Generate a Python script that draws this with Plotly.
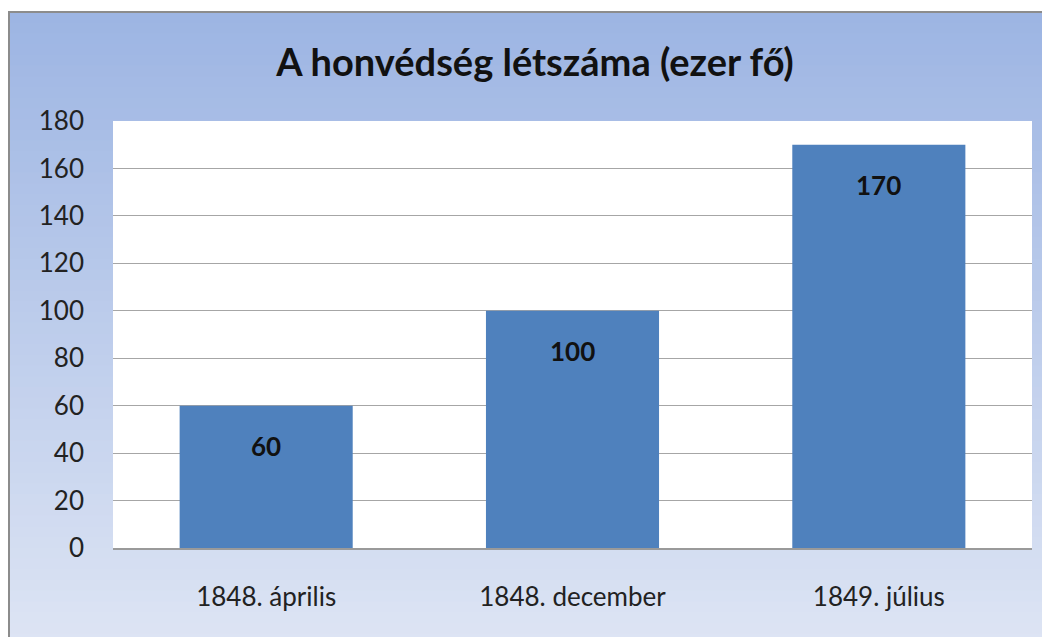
import plotly.graph_objects as go

categories = ["1848. április", "1848. december", "1849. július"]
values = [60, 100, 170]
y_ticks = [0, 20, 40, 60, 80, 100, 120, 140, 160, 180]
title_text = "A honvédség létszáma (ezer fő)"

# the page body adds an 8px offset; margins compensate for it
OFF = 8
W, H = 1050, 637
ML, MR, MT, MB = 113 - OFF, 26, 121 - OFF, 97

FONT = "Lato, Open Sans, sans-serif"

fig = go.Figure()
fig.add_trace(go.Bar(
    x=categories, y=values, width=0.565,
    marker=dict(color="#4F81BD", line=dict(width=0)),
    hoverinfo="x+y",
))

for c, v in zip(categories, values):
    fig.add_annotation(x=c, y=v, yshift=-40, text=f"<b>{v}</b>", showarrow=False,
                       font=dict(family=FONT, size=26, color="#111111"))

shapes = []
top_c = (157, 181, 227)
bot_c = (222, 229, 244)
pw = W - ML - MR
ph = H - MT - MB


def px_x(px):
    return (px - OFF - ML) / pw


def px_y(py):
    return 1 - (py - OFF - MT) / ph


fx0, fy0 = 8, 12
n = 60
y_end = H + OFF + 10
for i in range(n):
    t = i / (n - 1)
    col = tuple(round(top_c[k] + (bot_c[k] - top_c[k]) * t) for k in range(3))
    ya = fy0 + (y_end - fy0) * i / n
    yb = fy0 + (y_end - fy0) * (i + 1) / n + 0.8
    shapes.append(dict(type="rect", xref="paper", yref="paper",
                       x0=px_x(fx0), x1=px_x(W + 20),
                       y0=px_y(ya), y1=px_y(yb),
                       fillcolor="rgb(%d,%d,%d)" % col, line=dict(width=0), layer="below"))
shapes.append(dict(type="rect", xref="paper", yref="paper",
                   x0=px_x(fx0 + 1), x1=px_x(W + 20),
                   y0=px_y(fy0), y1=px_y(H + 20),
                   fillcolor="rgba(0,0,0,0)", line=dict(width=2, color="#8C8C8C"), layer="below"))
shapes.append(dict(type="rect", xref="paper", yref="paper", x0=0, x1=1, y0=0, y1=1,
                   fillcolor="white", line=dict(width=0), layer="below"))

fig.update_layout(
    width=W, height=H,
    margin=dict(l=ML, r=MR, t=MT, b=MB),
    paper_bgcolor="white",
    plot_bgcolor="rgba(0,0,0,0)",
    shapes=shapes,
    showlegend=False,
    title=dict(text=f"<b>{title_text}</b>", x=(535 - OFF) / W, xanchor="center",
               y=1 - (63 - OFF) / H, yanchor="middle",
               font=dict(family=FONT, size=38, color="#111111")),
    font=dict(family=FONT, size=26, color="#222222"),
    xaxis=dict(showgrid=False, showline=True, linecolor="#9A9A9A", linewidth=2,
               ticks="", ticklabelstandoff=25, tickfont=dict(size=26, color="#222222")),
    yaxis=dict(range=[0, 180], tickvals=y_ticks, showgrid=True, gridcolor="#A6A6A6", gridwidth=1,
               zeroline=False, showline=False, ticks="", ticklabelstandoff=28,
               tickfont=dict(size=26, color="#222222")),
)

fig.write_html("out.html")
